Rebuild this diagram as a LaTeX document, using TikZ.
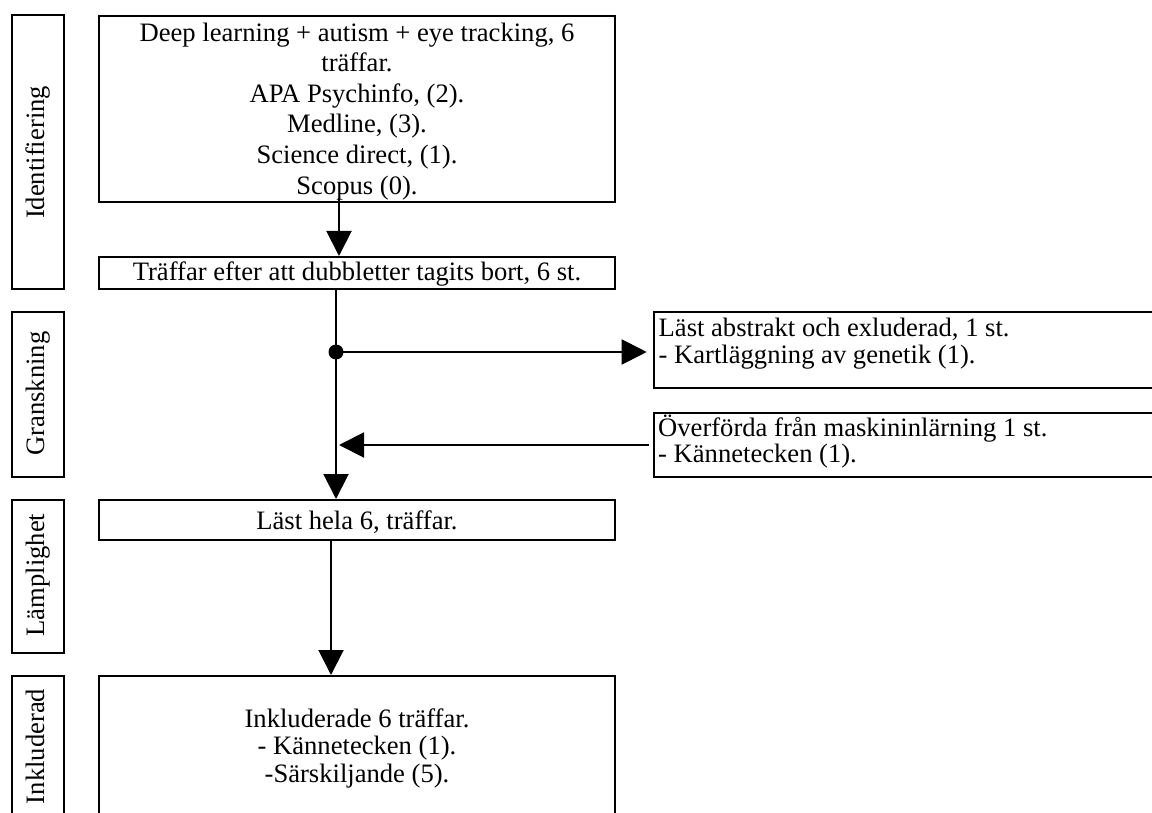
\documentclass[tikz,border=0pt]{standalone}
\usepackage{fontspec}
\setmainfont{Liberation Serif}
\usetikzlibrary{arrows.meta}
\begin{document}
\begin{tikzpicture}[x=1pt,y=-1pt,
  lbl/.style={draw, line width=2pt, minimum width=52pt, inner sep=0pt},
  mbox/.style={draw, line width=2pt, minimum width=516pt, inner sep=0pt},
  rbox/.style={draw, line width=2pt, minimum width=540pt, inner sep=0pt, anchor=west},
  txt/.style={font=\fontsize{26.6pt}{30pt}\selectfont, inner sep=0pt, anchor=base},
  rtxt/.style={txt, rotate=90},
  ltxt/.style={txt, anchor=base west},
  conn/.style={line width=2pt},
  arr/.style={conn, -{Triangle[length=25pt,width=25pt]}},
  dotst/.style={circle, fill=black, inner sep=0pt, minimum size=15pt}]
\useasboundingbox (0,0) rectangle (1152,813);
\clip (0,0) rectangle (1152,813);

% side labels
\node[lbl, minimum height=274pt] (lid) at (38,152) {};
\node[lbl, minimum height=165pt] (lgr) at (38,394.5) {};
\node[lbl, minimum height=152.7pt] (llm) at (38,576.3) {};
\node[lbl, minimum height=144pt] (lin) at (38,748) {};
\node[rtxt] (tid) at (44,152.5) {Identifiering};
\node[rtxt] (tgr) at (44,393.5) {Granskning};
\node[rtxt] (tlm) at (44,575) {Lämplighet};
\node[rtxt] (tin) at (44,746.5) {Inkluderad};

% main boxes
\node[mbox, minimum height=186pt] (b1) at (357,108.7) {};
\node[mbox, minimum height=32pt] (b2) at (357,273) {};
\node[mbox, minimum height=40pt] (b3) at (357,520) {};
\node[mbox, minimum height=144pt] (b4) at (357,748) {};

\node[txt] (b1a) at (357,41.5) {Deep learning + autism + eye tracking, 6};
\node[txt] (b1b) at (357,72) {träffar.};
\node[txt] (b1c) at (357,102.5) {APA Psychinfo, (2).};
\node[txt] (b1d) at (357,133) {Medline, (3).};
\node[txt] (b1e) at (357,163.5) {Science direct, (1).};
\node[txt] (b1f) at (357,195) {Scopus (0).};
\node[txt] (b2a) at (357,281) {Träffar efter att dubbletter tagits bort, 6 st.};
\node[txt] (b3a) at (357,529) {Läst hela 6, träffar.};
\node[txt] (b4a) at (357,727) {Inkluderade 6 träffar.};
\node[txt] (b4b) at (357,754.5) {- Kännetecken (1).};
\node[txt] (b4c) at (357,782) {-Särskiljande (5).};

% right boxes
\node[rbox, minimum height=76pt] (rA) at (652.7,350) {};
\node[rbox, minimum height=64pt] (rB) at (652.7,445) {};
\node[ltxt] (rAa) at (658.5,336.5) {Läst abstrakt och exluderad, 1 st.};
\node[ltxt] (rAb) at (658.5,363) {- Kartläggning av genetik (1).};
\node[ltxt] (rBa) at (658,436.5) {Överförda från maskininlärning 1 st.};
\node[ltxt] (rBb) at (658,462.5) {- Kännetecken (1).};

% connectors
\coordinate (c1) at (339,0);
\coordinate (tr) at (336,0);
\coordinate (c3) at (331,0);
\coordinate (m) at (336,445);
\node[dotst] (dot) at (336,352) {};
\draw[arr] ([yshift=5pt]b1.south -| c1) -- (b2.north -| c1);
\draw[arr] (b2.south -| tr) -- (b3.north -| tr);
\draw[arr, shorten >=6pt] (dot.center) -- (dot -| rA.west);
\draw[arr, shorten <=4pt, shorten >=3pt] (rB.west) -- (m);
\draw[arr] (b3.south -| c3) -- (b4.north -| c3);
\end{tikzpicture}
\end{document}
